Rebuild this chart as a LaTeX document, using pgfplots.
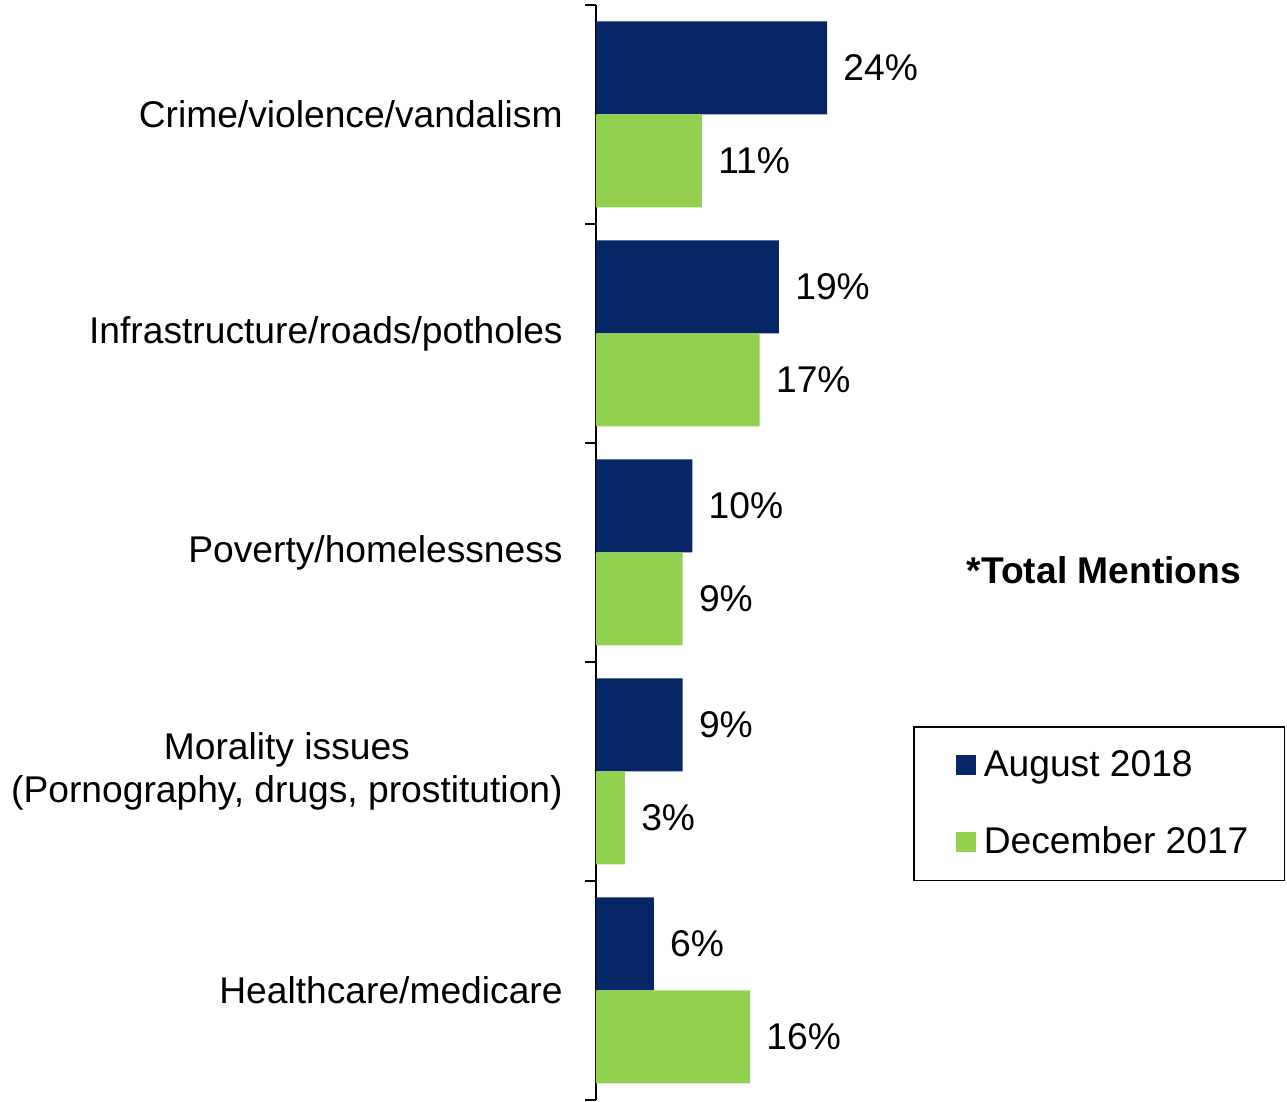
\documentclass[border=0pt]{standalone}
\usepackage{pgfplots}
\pgfplotsset{compat=1.18}
\usepackage{fontspec}
\setmainfont{Liberation Sans}
\definecolor{navy}{RGB}{6,38,102}
\definecolor{lgreen}{RGB}{146,208,80}
\newcommand{\bigf}{\fontsize{18.6pt}{21.5pt}\selectfont}
\begin{document}
\begin{tikzpicture}
\useasboundingbox (0,0) rectangle (643.5pt,551pt);
\begin{axis}[
  at={(298pt,1pt)}, anchor=south west,
  scale only axis,
  width=345.5pt, height=547.5pt,
  xmin=0, xmax=71.76,
  ymin=0.5, ymax=5.5,
  axis y line*=left,
  axis x line=none,
  xbar,
  bar width=46.5pt,
  ytick={1,2,3,4,5},
  yticklabels={Healthcare/medicare,{Morality issues\\(Pornography, drugs, prostitution)},Poverty/homelessness,Infrastructure/roads/potholes,Crime/violence/vandalism},
  yticklabel style={font=\bigf, align=center, inner sep=0pt, xshift=-16.5pt},
  major tick length=0pt,
  extra y ticks={0.5,1.5,2.5,3.5,4.5,5.5},
  extra y tick labels={},
  extra y tick style={major tick length=5.5pt, tick align=outside, tick style={black, line width=0.6pt}},
  y axis line style={black, line width=0.6pt},
  /pgf/number format/assume math mode=true,
  nodes near coords={\pgfmathprintnumber{\pgfplotspointmeta}\%},
  nodes near coords style={font=\bigf, anchor=west, inner sep=0pt, xshift=8pt, text=black},
  legend style={at={(0.4588,0.3416)}, anchor=north west, draw=black, line width=0.8pt,
    font=\bigf, inner xsep=16pt, inner ysep=10pt, row sep=19.5pt, cells={anchor=west}},
  legend image code/.code={\fill[#1] (5pt,-5pt) rectangle (15pt,5pt); \path (0pt,0pt) (17pt,0pt);},
  clip=false,
]
\addplot[fill=navy, draw=none, bar shift=23.25pt] coordinates {(6,1) (9,2) (10,3) (19,4) (24,5)};
\addplot[fill=lgreen, draw=none, bar shift=-23.25pt] coordinates {(16,1) (3,2) (9,3) (17,4) (11,5)};
\legend{August 2018, December 2017}
\node[font=\bigf\bfseries] at (rel axis cs:0.735,0.484) {*Total Mentions};
\end{axis}
\end{tikzpicture}
\end{document}
